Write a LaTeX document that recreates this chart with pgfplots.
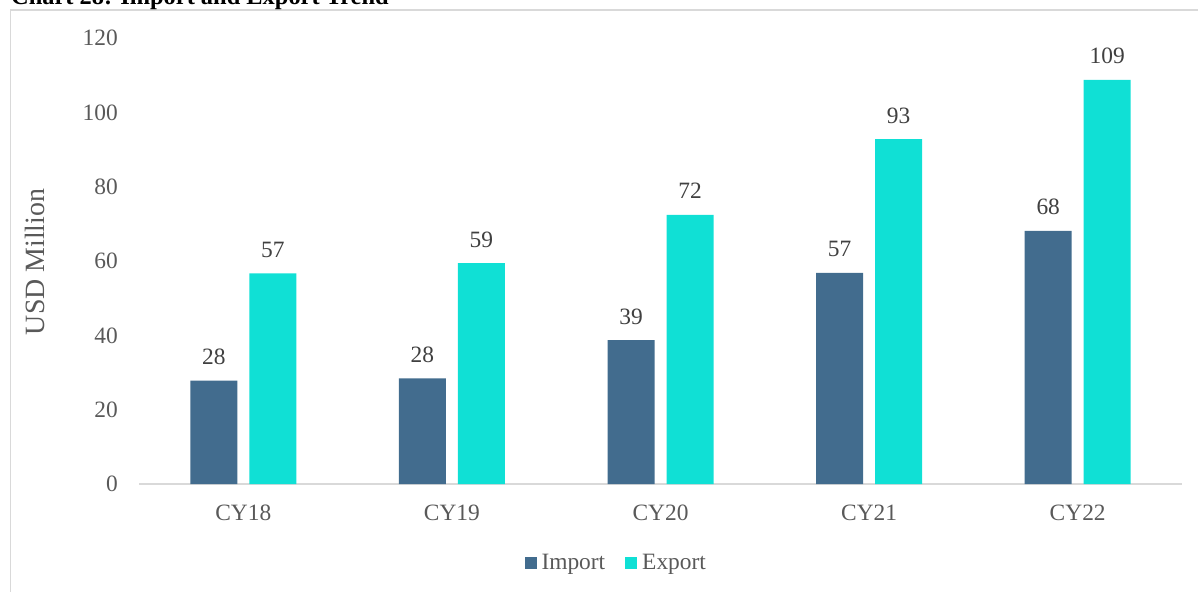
\documentclass[border=0pt]{standalone}
\usepackage{pgfplots}
\pgfplotsset{compat=1.18}
\usepackage{fontspec}
\setmainfont{Liberation Serif}
\definecolor{impc}{RGB}{66,108,142}
\definecolor{expc}{RGB}{16,224,213}
\definecolor{tickc}{RGB}{89,89,89}
\definecolor{labc}{RGB}{64,64,64}
\definecolor{framec}{RGB}{217,217,217}
\begin{document}
\begin{tikzpicture}
\useasboundingbox (0,0) rectangle (1198bp,592bp);
\clip (0,0) rectangle (1198bp,592bp);
\draw[framec, line width=1.6bp] (10.3bp,-20bp) rectangle (1230bp,581.7bp);
\node[anchor=base west, inner sep=0pt, font=\fontsize{24.5}{28}\selectfont\bfseries] at (11bp,587.5bp) {Chart 28: Import and Export Trend};
\begin{axis}[
  at={(139bp,108bp)}, anchor=south west,
  scale only axis, width=1043bp, height=446bp,
  xmin=-0.5, xmax=4.5, ymin=0, ymax=120,
  enlargelimits=false, clip=false,
  ybar=12bp, bar width=47bp,
  axis lines=left, axis line style={-},
  y axis line style={draw=none},
  x axis line style={draw=framec, line width=1.3bp},
  major tick length=0pt, tick style={draw=none},
  xtick={0,1,2,3,4},
  xticklabels={CY18,CY19,CY20,CY21,CY22},
  ytick={0,20,40,60,80,100,120},
  font=\fontsize{23.5}{28}\selectfont,
  /pgf/number format/assume math mode=true,
  ticklabel style={text=tickc, font=\fontsize{23.5}{28}\selectfont},
  yticklabel style={anchor=east, inner sep=0pt, xshift=-21bp},
  xticklabel style={anchor=base, inner sep=0pt, yshift=-36bp},
  ylabel={USD Million},
  every axis y label/.style={at={(axis description cs:-0.1,0.498)}, rotate=90, anchor=center, text=tickc, font=\fontsize{28}{32}\selectfont},
  nodes near coords={\pgfmathprintnumber[fixed,precision=0]{\pgfplotspointmeta}},
  every node near coord/.append style={anchor=base, inner sep=0pt, yshift=16bp, text=labc, font=\fontsize{23.5}{28}\selectfont},
  legend style={draw=none, fill=none, at={(0.459,-0.177)}, anchor=center, legend columns=2,
    /tikz/every even column/.append style={column sep=15bp},
    font=\fontsize{23.5}{28}\selectfont, text=tickc,
    nodes={inner xsep=5bp, inner ysep=0pt}},
  legend image code/.code={\fill[#1] (0bp,-6bp) rectangle (12bp,6bp);},
]
\addplot[fill=impc, draw=none] coordinates {(0,27.8) (1,28.4) (2,38.7) (3,56.8) (4,68.1)};
\addplot[fill=expc, draw=none] coordinates {(0,56.7) (1,59.4) (2,72.4) (3,92.8) (4,108.7)};
\legend{Import,Export}
\end{axis}
\end{tikzpicture}
\end{document}
